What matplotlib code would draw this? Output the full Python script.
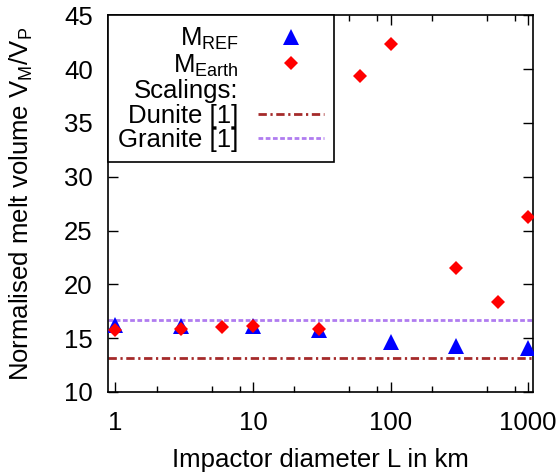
import numpy as np
import matplotlib
matplotlib.use("Agg")
import matplotlib.pyplot as plt
from matplotlib.lines import Line2D
from matplotlib.ticker import LogLocator, NullFormatter, FixedLocator

plt.rcParams["font.family"] = ["Liberation Sans", "DejaVu Sans"]
plt.rcParams["mathtext.fontset"] = "custom"
plt.rcParams["mathtext.rm"] = "Liberation Sans"
plt.rcParams["mathtext.it"] = "Liberation Sans:italic"

# impactor diameters (km) and normalised melt volumes
L_ref = [1, 3, 10, 30, 100, 300, 1000]
vm_ref = [16.2, 16.1, 16.1, 15.8, 14.65, 14.3, 14.1]

L_earth = [1, 3, 6, 10, 30, 60, 100, 300, 600, 1000]
vm_earth = [15.75, 15.9, 16.0, 16.15, 15.9, 39.35, 42.35, 21.5, 18.35, 26.3]

dunite_level = 13.2
granite_level = 16.7

FS = 18.5
DUNITE = dict(color="#a52a2a", lw=2, dashes=(3, 1.3, 0.8, 1.3))
GRANITE = dict(color="#b07cf0", lw=2, dashes=(1.7, 0.9))

fig = plt.figure(figsize=(5.6, 4.72), dpi=100)
ax = fig.add_axes([0.193, 0.1695, 0.759, 0.798])

ax.plot(L_ref, vm_ref, linestyle="none", marker="^", ms=12, color="#0000ff",
        markeredgewidth=0, zorder=3)
ax.plot(L_earth, vm_earth, linestyle="none", marker="D", ms=7.5, color="#ff0000",
        markeredgewidth=0, zorder=4)
ax.axhline(dunite_level, zorder=2, **DUNITE)
ax.axhline(granite_level, zorder=2, **GRANITE)

ax.set_xscale("log")
ax.set_xlim(0.885, 1085)
ax.set_ylim(10, 45)
ax.xaxis.set_major_locator(FixedLocator([1, 10, 100, 1000]))
ax.xaxis.set_minor_locator(LogLocator(base=10, subs=(2, 5, 8)))
ax.xaxis.set_minor_formatter(NullFormatter())
ax.set_xticklabels(["1", "10", "100", "1000"])
ax.set_yticks(np.arange(10, 46, 5))
ax.tick_params(which="both", direction="in", top=True, right=True,
               labelsize=FS, width=1)
ax.tick_params(which="major", length=7)
ax.tick_params(which="minor", length=4)
ax.tick_params(axis="x", which="major", pad=14)
ax.tick_params(axis="y", which="major", pad=11)
for s in ax.spines.values():
    s.set_linewidth(1.2)

ax.set_xlabel("Impactor diameter L in km", fontsize=FS, labelpad=9)
ax.set_ylabel(r"Normalised melt volume V$_{\rm M}$/V$_{\rm P}$", fontsize=FS,
              labelpad=21)

handles = [
    Line2D([], [], linestyle="none", marker="^", ms=12, color="#0000ff",
           markeredgewidth=0),
    Line2D([], [], linestyle="none", marker="D", ms=7.5, color="#ff0000",
           markeredgewidth=0),
    Line2D([], [], linestyle="none"),
    Line2D([], [], **DUNITE),
    Line2D([], [], **GRANITE),
]
labels = [r"M$_{\rm REF}$", r"M$_{\rm Earth}$", "Scalings:", "Dunite [1]",
          "Granite [1]"]
leg = ax.legend(handles, labels, loc="upper left", bbox_to_anchor=(0, 1),
                borderaxespad=0, markerfirst=False, fancybox=False,
                edgecolor="black", framealpha=1, fontsize=FS,
                handlelength=2.55, handletextpad=0.75, labelspacing=0.02,
                borderpad=0.4)
leg.get_frame().set_linewidth(1.2)
leg.set_zorder(5)

fig.savefig("out.png", dpi=100)
